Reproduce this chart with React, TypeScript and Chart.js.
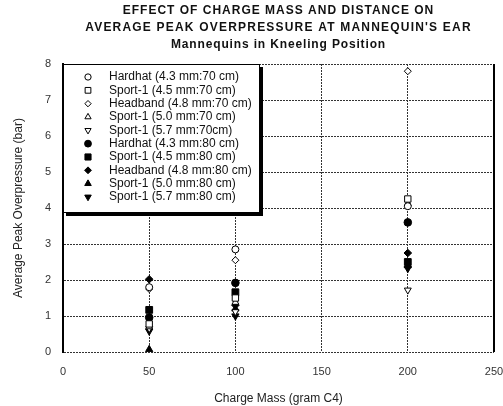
import React, { useEffect, useRef } from "react";
import { Chart, registerables } from "chart.js";
import { drawPoint } from "chart.js/helpers";

Chart.register(...registerables);

const chargeMass = [50, 100, 200];
const titleLines = [
  "EFFECT OF CHARGE MASS AND DISTANCE ON",
  "AVERAGE PEAK OVERPRESSURE AT MANNEQUIN'S EAR",
  "Mannequins in Kneeling Position",
];
const seriesLabels = [
  "Hardhat (4.3 mm:70 cm)",
  "Sport-1 (4.5 mm:70 cm)",
  "Headband (4.8 mm:70 cm)",
  "Sport-1 (5.0 mm:70 cm)",
  "Sport-1 (5.7 mm:70cm)",
  "Hardhat (4.3 mm:80 cm)",
  "Sport-1 (4.5 mm:80 cm)",
  "Headband (4.8 mm:80 cm)",
  "Sport-1 (5.0 mm:80 cm)",
  "Sport-1 (5.7 mm:80 cm)",
];
const hardhat70 = [1.8, 2.85, 4.05];
const sport45_70 = [0.78, 1.5, 4.25];
const headband70 = [1.75, 2.55, 7.8];
const sport50_70 = [0.7, 1.38, 4.12];
const sport57_70 = [0.65, 1.12, 1.72];
const hardhat80 = [0.96, 1.92, 3.6];
const sport45_80 = [1.17, 1.66, 2.5];
const headband80 = [2.02, 1.3, 2.75];
const sport50_80 = [0.07, 1.2, 2.4];
const sport57_80 = [0.58, 1.0, 2.32];
const seriesValues = [
  hardhat70, sport45_70, headband70, sport50_70, sport57_70,
  hardhat80, sport45_80, headband80, sport50_80, sport57_80,
];
const xTitle = "Charge Mass (gram C4)";
const yTitle = "Average Peak Overpressure (bar)";

const markerStyles = [
  { style: "circle", rot: 0, filled: false, r: 3.5 },
  { style: "rect", rot: 0, filled: false, r: 4.5 },
  { style: "rectRot", rot: 0, filled: false, r: 3.5 },
  { style: "triangle", rot: 0, filled: false, r: 4 },
  { style: "triangle", rot: 180, filled: false, r: 4 },
  { style: "circle", rot: 0, filled: true, r: 3.8 },
  { style: "rect", rot: 0, filled: true, r: 4.8 },
  { style: "rectRot", rot: 0, filled: true, r: 3.8 },
  { style: "triangle", rot: 0, filled: true, r: 4.2 },
  { style: "triangle", rot: 180, filled: true, r: 4.2 },
];

const FONT = "Arial, 'Liberation Sans', sans-serif";

const overlayPlugin = {
  id: "overlay",
  afterDraw(chart: any) {
    const ctx = chart.ctx;
    const area = chart.chartArea;
    const xs = chart.scales.x;
    // right border solid
    ctx.save();
    ctx.strokeStyle = "#000";
    ctx.lineWidth = 2;
    ctx.beginPath();
    const rx = xs.getPixelForValue(250);
    ctx.moveTo(rx, area.top);
    ctx.lineTo(rx, area.bottom);
    ctx.stroke();
    ctx.restore();

    // titles
    ctx.save();
    ctx.fillStyle = "#111";
    ctx.textAlign = "center";
    ctx.textBaseline = "middle";
    ctx.font = `bold 12px ${FONT}`;
    const cx = (area.left + area.right) / 2;
    const ys = [11, 28, 45];
    const spacing = ["1px", "1.2px", "0.85px"];
    titleLines.forEach((t, i) => {
      (ctx as any).letterSpacing = spacing[i];
      ctx.fillText(t, cx, ys[i]);
    });
    (ctx as any).letterSpacing = "0px";
    ctx.restore();

    // legend
    const bx = area.left;
    const by = area.top;
    const bw = 197;
    const bh = 149;
    ctx.save();
    ctx.fillStyle = "#000";
    ctx.fillRect(bx + 3, by + 3, bw, bh);
    ctx.fillStyle = "#fff";
    ctx.fillRect(bx, by, bw, bh);
    ctx.strokeStyle = "#000";
    ctx.lineWidth = 1;
    ctx.strokeRect(bx + 0.5, by + 0.5, bw - 1, bh - 1);
    ctx.font = `12px ${FONT}`;
    ctx.textAlign = "left";
    ctx.textBaseline = "middle";
    seriesLabels.forEach((label, i) => {
      const y = by + 13 + i * 13.33;
      const m = markerStyles[i];
      ctx.fillStyle = m.filled ? "#000" : "#fff";
      ctx.strokeStyle = "#000";
      ctx.lineWidth = 1;
      drawPoint(ctx, { pointStyle: m.style, rotation: m.rot, radius: m.r * 0.9, borderWidth: 1 } as any, bx + 25, y);
      ctx.fillStyle = "#111";
      ctx.fillText(label, bx + 46, y);
    });
    ctx.restore();
  },
};

export default function App() {
  const ref = useRef<HTMLCanvasElement>(null);
  useEffect(() => {
    const datasets = seriesLabels.map((label, i) => {
      const m = markerStyles[i];
      return {
        label,
        data: chargeMass.map((x, j) => ({ x, y: seriesValues[i][j] })),
        pointStyle: m.style,
        pointRotation: m.rot,
        pointRadius: m.r,
        backgroundColor: m.filled ? "#000" : "#fff",
        borderColor: "#000",
        borderWidth: 1,
        showLine: false,
      };
    });
    const chart = new Chart(ref.current as HTMLCanvasElement, {
      type: "scatter",
      data: { datasets: datasets as any },
      options: {
        responsive: false,
        animation: false,
        devicePixelRatio: 1,
        layout: { padding: { top: 64, right: 9, bottom: 0, left: 0 } },
        plugins: { legend: { display: false }, tooltip: { enabled: false }, title: { display: false } },
        scales: {
          x: {
            type: "linear",
            min: 0,
            max: 250,
            ticks: { stepSize: 50, padding: 13, color: "#333", font: { family: FONT, size: 11 } },
            grid: { color: "#333", lineWidth: 1, drawTicks: false },
            border: { display: false, dash: [2, 1] },
            title: { display: true, text: xTitle, color: "#222", font: { family: FONT, size: 12 }, padding: { top: 6, bottom: 0 } },
            afterFit: (s: any) => { s.height = 54; s.paddingRight = 0; s.paddingLeft = 0; },
          },
          y: {
            type: "linear",
            min: 0,
            max: 8,
            ticks: { stepSize: 1, padding: 12, color: "#333", font: { family: FONT, size: 11 } },
            grid: { color: "#333", lineWidth: 1, drawTicks: false },
            border: { display: true, color: "#000", width: 2, dash: [2, 1] },
            title: { display: true, text: yTitle, color: "#222", font: { family: FONT, size: 12 }, padding: { top: 11, bottom: 0 } },
            afterFit: (s: any) => { s.width = 63; s.paddingTop = 0; s.paddingBottom = 0; },
          },
        },
      } as any,
      plugins: [overlayPlugin],
    });
    return () => chart.destroy();
  }, []);
  return (
    <div style={{ position: "absolute", left: 0, top: 0, width: 503, height: 406, background: "#fff" }}>
      <canvas ref={ref} width={503} height={406} />
    </div>
  );
}
